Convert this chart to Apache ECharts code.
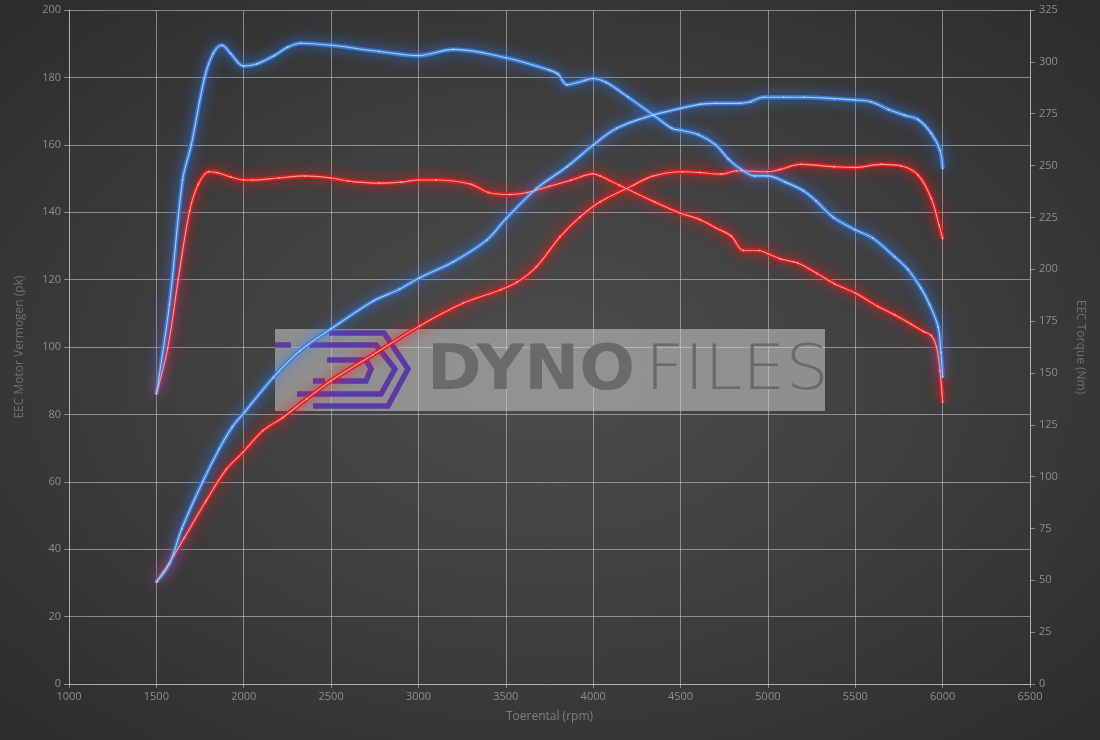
<!DOCTYPE html>
<html>
<head>
<meta charset="utf-8">
<script src="https://cdn.jsdelivr.net/npm/echarts@6/dist/echarts.min.js"></script>
<style>
  html, body { margin: 0; padding: 0; }
  #chart {
    width: 1100px;
    height: 740px;
    background: radial-gradient(ellipse at 50% 50%, #4c4c4c 0%, #404040 45%, #333333 80%, #2c2c2c 100%);
  }
</style>
</head>
<body>
<div id="chart"></div>
<script>
// [rpm, value] pairs
const tunedTorque = [
  [1500, 140], [1575, 183], [1650, 243], [1700, 260], [1775, 292], [1825, 304],
  [1875, 308], [1925, 304], [2000, 298], [2075, 299], [2175, 303], [2250, 307],
  [2325, 309], [2500, 308], [2775, 305], [3000, 303], [3200, 306], [3500, 302],
  [3750, 296], [3800, 294], [3850, 289], [3950, 291], [4000, 292], [4075, 290],
  [4200, 283], [4350, 274], [4450, 268], [4500, 267], [4600, 265], [4700, 260],
  [4775, 253], [4850, 248], [4925, 245], [5000, 245], [5100, 242], [5200, 238],
  [5275, 233], [5375, 225], [5500, 219], [5600, 215], [5725, 206], [5800, 200],
  [5875, 191], [5925, 183], [5975, 172], [5990, 160], [6000, 148]
]
const stockTorque = [
  [1500, 140], [1565, 162], [1625, 195], [1690, 228], [1740, 241], [1800, 247],
  [1850, 246.5], [1925, 244.5], [2000, 243], [2050, 243], [2200, 244], [2350, 245],
  [2500, 244], [2600, 242.5], [2775, 241.5], [2900, 242], [3000, 243], [3100, 243],
  [3300, 241], [3400, 237], [3525, 236], [3625, 237], [3750, 240], [3875, 243],
  [4000, 246], [4040, 245], [4150, 240.5], [4350, 232.5], [4500, 227], [4610, 224],
  [4700, 220], [4790, 216], [4860, 209], [4950, 209], [5000, 207.5], [5070, 205],
  [5170, 203], [5280, 198], [5380, 193], [5500, 188.5], [5630, 182], [5725, 178],
  [5820, 173.5], [5890, 170], [5935, 168], [5965, 162.5], [5985, 151], [6000, 136]
]
const tunedPower = [
  [1500, 30.3], [1575, 35.7], [1645, 46], [1765, 60], [1860, 69.8], [1935, 76.3],
  [2005, 80.7], [2170, 91], [2320, 98.8], [2500, 105.4], [2740, 113.6], [2890, 117.1],
  [3005, 120.5], [3200, 125.3], [3390, 131.7], [3500, 138], [3675, 147], [3850, 153.5],
  [4000, 159.9], [4135, 164.9], [4340, 168.8], [4500, 170.8], [4610, 172], [4700, 172.3],
  [4840, 172.3], [4900, 172.8], [4975, 174.1], [5090, 174.1], [5205, 174.1], [5380, 173.7],
  [5500, 173.3], [5590, 172.8], [5690, 170.5], [5780, 168.8], [5860, 167.5], [5935, 163.4],
  [5985, 158.4], [6000, 153]
]
const stockPower = [
  [1500, 30.3], [1565, 35.2], [1660, 43.4], [1785, 54.4], [1900, 63.7], [1995, 68.7],
  [2110, 75.2], [2225, 79.1], [2360, 84.6], [2500, 90], [2740, 97.7], [3005, 106.2],
  [3260, 113.1], [3470, 117], [3565, 119.3], [3675, 123.8], [3810, 132.7], [3925, 138.6],
  [4040, 143.1], [4230, 148], [4340, 150.7], [4510, 152], [4610, 151.8], [4735, 151.3],
  [4820, 152.3], [5000, 152], [5070, 152.7], [5185, 154.2], [5380, 153.5], [5500, 153.3],
  [5650, 154.2], [5765, 153.7], [5860, 151], [5935, 144.1], [5980, 136.1], [6000, 132.2]
]

const rpmTicks = { min: 1000, max: 6500, step: 500 }
const powerTicks = { min: 0, max: 200, step: 20 }
const torqueTicks = { min: 0, max: 325, step: 25 }

const chart = echarts.init(document.getElementById('chart'))

const labelColor = '#8d8d8d'
const gridColor = 'rgba(205,205,205,0.55)'
const font = 'Open Sans'

const BLUE = { glow: 'rgba(58,125,220,0.9)', shadow: 'rgba(45,125,255,1)', core: '#a9cbf3' }
const RED = { glow: 'rgba(225,30,30,0.9)', shadow: 'rgba(255,20,20,1)', core: '#ff9a9a' }

const curve = (name, data, yAxisIndex, c) => [
  {
    name: name + ' glow',
    type: 'line',
    data,
    yAxisIndex,
    smooth: 0.35,
    showSymbol: false,
    z: 3,
    lineStyle: { width: 4.5, color: c.glow, shadowColor: c.shadow, shadowBlur: 13 }
  },
  {
    name,
    type: 'line',
    data,
    yAxisIndex,
    smooth: 0.35,
    showSymbol: true,
    showAllSymbol: true,
    symbol: 'circle',
    symbolSize: 2,
    z: 4,
    itemStyle: { color: c.core, borderWidth: 0 },
    lineStyle: { width: 1.1, color: c.core }
  }
]

// purple DynoFiles mark (decoration only)
const logoColor = '#5b3aa8'
const logoLines = [
  [[329, 333], [384, 333], [408, 369], [388, 406], [313, 406]],
  [[309, 345], [376, 345], [395, 369], [381, 394], [297, 394]],
  [[327, 360], [366, 360], [371, 369], [366, 381], [332, 381]],
  [[275, 345], [291, 345]],
  [[313, 381], [325, 381]]
]

chart.setOption({
  animation: false,
  backgroundColor: 'transparent',
  grid: { left: 69, right: 70, top: 10, bottom: 56 },
  xAxis: {
    type: 'value',
    min: rpmTicks.min,
    max: rpmTicks.max,
    interval: rpmTicks.step,
    name: 'Toerental (rpm)',
    nameLocation: 'middle',
    nameGap: 27,
    nameTextStyle: { color: '#7f7f7f', fontSize: 12, fontFamily: font },
    axisLine: { show: true, lineStyle: { color: gridColor } },
    axisTick: { show: true, length: 4, lineStyle: { color: gridColor } },
    axisLabel: { color: labelColor, fontSize: 11, fontFamily: font, margin: 7, formatter: (v) => String(v) },
    splitLine: { show: true, lineStyle: { color: gridColor, width: 1 } }
  },
  yAxis: [
    {
      type: 'value',
      min: powerTicks.min,
      max: powerTicks.max,
      interval: powerTicks.step,
      name: 'EEC Motor Vermogen (pk)',
      nameLocation: 'middle',
      nameGap: 43,
      nameTextStyle: { color: '#6f6f6f', fontSize: 12, fontFamily: font },
      axisLine: { show: true, lineStyle: { color: gridColor } },
      axisTick: { show: true, length: 5, lineStyle: { color: gridColor } },
      axisLabel: { color: labelColor, fontSize: 11, fontFamily: font, margin: 8 },
      splitLine: { show: true, lineStyle: { color: gridColor, width: 1 } }
    },
    {
      type: 'value',
      position: 'right',
      min: torqueTicks.min,
      max: torqueTicks.max,
      interval: torqueTicks.step,
      name: 'EEC Torque (Nm)',
      nameLocation: 'middle',
      nameRotate: -90,
      nameGap: 44,
      nameTextStyle: { color: '#6f6f6f', fontSize: 12, fontFamily: font },
      axisLine: { show: true, lineStyle: { color: gridColor } },
      axisTick: { show: true, length: 5, lineStyle: { color: gridColor } },
      axisLabel: { color: labelColor, fontSize: 11, fontFamily: font, margin: 9 },
      splitLine: { show: false }
    }
  ],
  graphic: [
    {
      type: 'rect',
      z: 1,
      shape: { x: 275, y: 329, width: 550, height: 82 },
      style: { fill: 'rgba(205,205,205,0.55)' }
    },
    ...logoLines.map((pts) => ({
      type: 'polyline',
      z: 1,
      shape: { points: pts },
      style: { stroke: logoColor, lineWidth: 5.5, fill: null, lineJoin: 'miter' }
    })),
    {
      type: 'text',
      z: 1,
      x: 427,
      y: 342,
      scaleX: 1.06,
      style: { text: 'DYNO', fill: '#6a6a6a', font: 'bold 62px "DejaVu Sans"', verticalAlign: 'top' }
    },
    {
      type: 'text',
      z: 1,
      x: 645,
      y: 342,
      scaleX: 1.1,
      style: { text: 'FILES', fill: '#6a6a6a', font: '200 62px "DejaVu Sans"', verticalAlign: 'top' }
    }
  ],
  series: [
    ...curve('Stock vermogen', stockPower, 0, RED),
    ...curve('Stock koppel', stockTorque, 1, RED),
    ...curve('Tuned vermogen', tunedPower, 0, BLUE),
    ...curve('Tuned koppel', tunedTorque, 1, BLUE)
  ]
})
</script>
</body>
</html>
